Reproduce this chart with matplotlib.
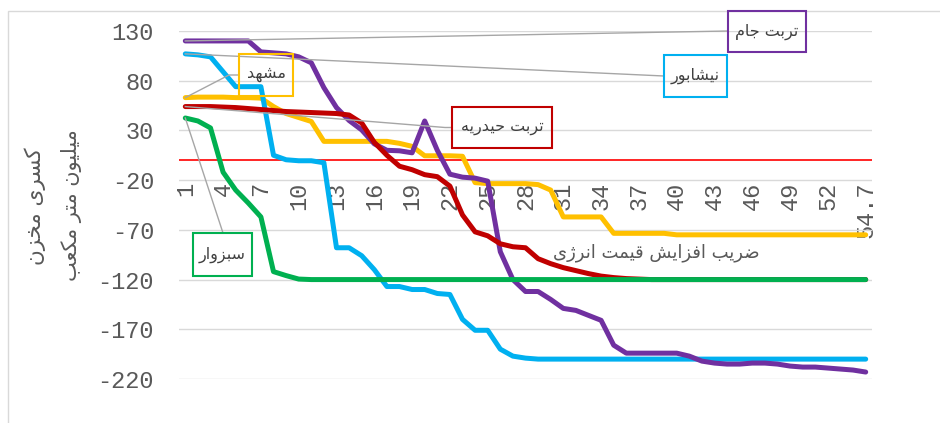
import matplotlib
matplotlib.use("Agg")
import matplotlib.pyplot as plt
from matplotlib.patches import Rectangle
from matplotlib.lines import Line2D

W, H = 940, 423
TEXT = "#595959"
GRID = "#D9D9D9"
LEADER = "#A6A6A6"
TICK_FONT = "Liberation Mono"
FA_FONT = ["DejaVu Sans"]

# ── data ─────────────────────────────────────────────────────────
X_LABELS = [str(n) for n in range(1, 55)] + ["54.7"]
Y_TICKS = [-220, -170, -120, -70, -20, 30, 80, 130]

torbat_jam = [120, 120, 120, 120, 120, 120, 109, 108, 107, 104,
              98, 73, 53, 40, 30.5, 16.5, 10, 9.5, 7.5, 39.5,
              10, -14, -17, -18, -21, -92, -120, -132, -132, -140,
              -149, -151, -156, -161, -186, -194, -194, -194, -194, -194,
              -197, -202, -204, -205, -205, -204, -204, -205, -207, -208,
              -208, -209, -210, -211, -213]
neyshabur = [107, 106, 104, 89, 74, 74, 74, 5, 0.5, -0.5,
             -0.5, -2.5, -88, -88, -96, -110, -127, -127, -130, -130,
             -134, -135, -160, -171, -171, -190, -197, -199, -200, -200,
             -200, -200, -200, -200, -200, -200, -200, -200, -200, -200,
             -200, -200, -200, -200, -200, -200, -200, -200, -200, -200,
             -200, -200, -200, -200, -200]
mashhad = [63, 63.5, 63.5, 63.5, 63, 63, 62.5, 54, 47, 43,
           39, 19, 19, 19, 19, 19, 19, 17, 14, 4.5,
           4.5, 4.5, 4, -22.5, -23.5, -23.5, -23.5, -23.5, -24.5, -30,
           -57, -57, -57, -57, -73.5, -73.5, -73.5, -73.5, -73.5, -75,
           -75, -75, -75, -75, -75, -75, -75, -75, -75, -75,
           -75, -75, -75, -75, -75]
torbat_heydarieh = [54, 54, 54, 53.5, 53, 52, 51, 50, 49, 48.5,
                    48, 47.5, 47, 45.5, 37.5, 18, 5, -6, -9.5, -14.5,
                    -16.5, -26, -55, -72, -76, -84, -87, -88, -99, -104,
                    -108, -111, -114, -116.5, -118, -119, -119.5, -120, -120, -120,
                    -120, -120, -120, -120, -120, -120, -120, -120, -120, -120,
                    -120, -120, -120, -120, -120]
sabzevar = [42.5, 39.5, 32.5, -12, -30, -43, -57, -112, -116, -119.5,
            -120, -120, -120, -120, -120, -120, -120, -120, -120, -120,
            -120, -120, -120, -120, -120, -120, -120, -120, -120, -120,
            -120, -120, -120, -120, -120, -120, -120, -120, -120, -120,
            -120, -120, -120, -120, -120, -120, -120, -120, -120, -120,
            -120, -120, -120, -120, -120]

SERIES = [
    ("مشهد", mashhad, "#FFC000"),
    ("نیشابور", neyshabur, "#00B0F0"),
    ("تربت جام", torbat_jam, "#7030A0"),
    ("تربت حیدریه", torbat_heydarieh, "#C00000"),
    ("سبزوار", sabzevar, "#00B050"),
]

# ── minimal Persian shaping (matplotlib has no bidi / joining) ───
# isolated, final, initial, medial ; None = joins to the right only
FORMS = {
    "ا": ("\uFE8D", "\uFE8E", None, None),
    "ب": ("\uFE8F", "\uFE90", "\uFE91", "\uFE92"),
    "ت": ("\uFE95", "\uFE96", "\uFE97", "\uFE98"),
    "ج": ("\uFE9D", "\uFE9E", "\uFE9F", "\uFEA0"),
    "ح": ("\uFEA1", "\uFEA2", "\uFEA3", "\uFEA4"),
    "خ": ("\uFEA5", "\uFEA6", "\uFEA7", "\uFEA8"),
    "د": ("\uFEA9", "\uFEAA", None, None),
    "ر": ("\uFEAD", "\uFEAE", None, None),
    "ز": ("\uFEAF", "\uFEB0", None, None),
    "ژ": ("\uFB8A", "\uFB8B", None, None),
    "س": ("\uFEB1", "\uFEB2", "\uFEB3", "\uFEB4"),
    "ش": ("\uFEB5", "\uFEB6", "\uFEB7", "\uFEB8"),
    "ض": ("\uFEBD", "\uFEBE", "\uFEBF", "\uFEC0"),
    "ع": ("\uFEC9", "\uFECA", "\uFECB", "\uFECC"),
    "ف": ("\uFED1", "\uFED2", "\uFED3", "\uFED4"),
    "ق": ("\uFED5", "\uFED6", "\uFED7", "\uFED8"),
    "ک": ("\uFB8E", "\uFB8F", "\uFB90", "\uFB91"),
    "ل": ("\uFEDD", "\uFEDE", "\uFEDF", "\uFEE0"),
    "م": ("\uFEE1", "\uFEE2", "\uFEE3", "\uFEE4"),
    "ن": ("\uFEE5", "\uFEE6", "\uFEE7", "\uFEE8"),
    "ه": ("\uFEE9", "\uFEEA", "\uFEEB", "\uFEEC"),
    "و": ("\uFEED", "\uFEEE", None, None),
    "ی": ("\uFBFC", "\uFBFD", "\uFBFE", "\uFBFF"),
}


def fa(text):
    out = []
    for k, ch in enumerate(text):
        if ch not in FORMS:
            out.append(ch)
            continue
        prev = text[k - 1] if k > 0 else ""
        nxt = text[k + 1] if k + 1 < len(text) else ""
        iso, fin, ini, med = FORMS[ch]
        j_prev = prev in FORMS and FORMS[prev][2] is not None
        j_next = ini is not None and nxt in FORMS
        if j_prev and j_next:
            out.append(med)
        elif j_prev:
            out.append(fin)
        elif j_next:
            out.append(ini)
        else:
            out.append(iso)
    return "".join(reversed(out))


# ── figure ───────────────────────────────────────────────────────
fig = plt.figure(figsize=(W / 100, H / 100), dpi=100, facecolor="white")
ax = fig.add_axes([179 / W, 1 - 379 / H, 693 / W, 348 / H])

xs = range(len(X_LABELS))
for k, (name, vals, color) in enumerate(SERIES):
    ax.plot(xs, vals, color=color, lw=3.6, solid_joinstyle="round",
            solid_capstyle="round", zorder=3 + k * 0.1)

ax.axhline(0, color="#FF0000", lw=1.2, zorder=2.5)

ax.set_xlim(-0.5, len(X_LABELS) - 0.5)
ax.set_ylim(Y_TICKS[0], Y_TICKS[-1])
ax.set_yticks(Y_TICKS)
ax.set_yticklabels([str(v) for v in Y_TICKS])
ax.set_xticks(list(xs)[::3])
ax.set_xticklabels(X_LABELS[::3])
ax.grid(axis="y", color=GRID, lw=1.0, zorder=0)
ax.set_axisbelow(True)
for s in ax.spines.values():
    s.set_visible(False)
ax.spines["bottom"].set_position(("data", -20))
ax.tick_params(axis="x", length=0, pad=1, labelrotation=90,
               labelsize=17, labelcolor=TEXT)
ax.tick_params(axis="y", length=0, pad=18, labelsize=17, labelcolor=TEXT)
for lab in ax.get_xticklabels() + ax.get_yticklabels():
    lab.set_family(TICK_FONT)

# axis titles
ax.text(656, H - 253, fa("ضریب افزایش قیمت انرژی"), transform=None,
        ha="center", va="center", fontsize=13, color=TEXT, family=FA_FONT,
        zorder=2)
fig.text(35 / W, 1 - 206 / H, fa("کسری مخزن"), rotation=90,
         ha="center", va="center", fontsize=15.5, color=TEXT, family=FA_FONT)
fig.text(71 / W, 1 - 205 / H, fa("میلیون متر مکعب"), rotation=90,
         ha="center", va="center", fontsize=15, color=TEXT, family=FA_FONT)


# ── callouts (box in figure pixels, leader from first point) ─────
def callout(name, vals, color, box, path):
    x0, y0, x1, y1 = box
    pts = [(ax.transData.transform((0, vals[0])))] + [(px, H - py) for px, py in path]
    fig.add_artist(Line2D([p[0] for p in pts], [p[1] for p in pts],
                          transform=None, color=LEADER, lw=1.0, zorder=6))
    fig.add_artist(Rectangle((x0, H - y1), x1 - x0, y1 - y0, transform=None,
                             fill=False, ec=color, lw=1.5, zorder=7))
    fig.text((x0 + x1) / 2 / W, 1 - (y0 + y1) / 2 / H, fa(name),
             ha="center", va="center", fontsize=11.5, color="#404040",
             family=FA_FONT, zorder=8)


BOXES = {
    "تربت جام": ((728, 11, 806, 52), [(728, 31)]),
    "نیشابور": ((664, 55, 727, 97), [(664, 76)]),
    "مشهد": ((239, 54, 293, 96), [(229, 75), (239, 75)]),
    "تربت حیدریه": ((452, 107, 552, 148), [(445, 127.5), (452, 127.5)]),
    "سبزوار": ((193, 233, 252, 276), [(223, 233)]),
}
for name, vals, color in SERIES:
    box, path = BOXES[name]
    callout(name, vals, color, box, path)

# outer chart frame
fig.add_artist(Rectangle((8, -20), W + 20, H + 20 - 10.5, transform=None,
                         fill=False, ec=GRID, lw=1.0))

fig.savefig("out.png", dpi=100, facecolor="white")
